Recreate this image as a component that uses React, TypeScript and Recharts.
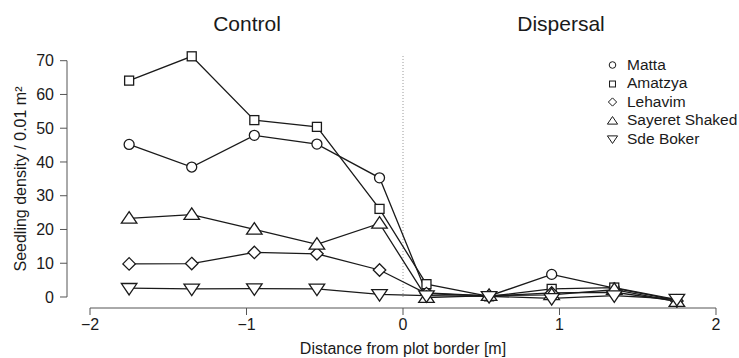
import { LineChart, Line, XAxis, YAxis, ReferenceLine } from "recharts";

const distances = [-1.75, -1.35, -0.95, -0.55, -0.15, 0.15, 0.55, 0.95, 1.35, 1.75];
const matta = [45.2, 38.5, 47.9, 45.3, 35.3, 1.2, 0.3, 6.7, 2.6, -1.0];
const amatzya = [64.1, 71.3, 52.4, 50.4, 26.1, 3.8, 0.2, 2.4, 2.8, -0.8];
const lehavim = [9.8, 9.9, 13.2, 12.8, 8.0, 1.0, 0.3, 1.2, 1.4, -1.2];
const sayeretShaked = [23.3, 24.4, 20.0, 15.6, 21.8, -0.2, 0.4, 0.6, 2.2, -1.4];
const sdeBoker = [2.6, 2.4, 2.5, 2.4, 0.8, 0.4, 0.2, -0.4, 0.4, -0.6];

const xTicks = [-2, -1, 0, 1, 2];
const yTicks = [0, 10, 20, 30, 40, 50, 60, 70];
const panelTitles = ["Control", "Dispersal"];

type Shape = "circle" | "square" | "diamond" | "up" | "down";

const series: { key: string; name: string; values: number[]; shape: Shape }[] = [
  { key: "matta", name: "Matta", values: matta, shape: "circle" },
  { key: "amatzya", name: "Amatzya", values: amatzya, shape: "square" },
  { key: "lehavim", name: "Lehavim", values: lehavim, shape: "diamond" },
  { key: "sayeret", name: "Sayeret Shaked", values: sayeretShaked, shape: "up" },
  { key: "sdeBoker", name: "Sde Boker", values: sdeBoker, shape: "down" },
];

const data = distances.map((x, i) => {
  const row: Record<string, number> = { x };
  series.forEach((s) => (row[s.key] = s.values[i]));
  return row;
});

const FONT = '"Liberation Sans", Arial, sans-serif';
const INK = "#1a1a1a";

function Marker({ cx, cy, shape, size = 5, sw = 1.3 }: { cx: number; cy: number; shape: Shape; size?: number; sw?: number }) {
  const p = { fill: "#fff", stroke: INK, strokeWidth: sw };
  if (shape === "circle") return <circle cx={cx} cy={cy} r={size} {...p} />;
  if (shape === "square") return <rect x={cx - size * 0.9} y={cy - size * 0.9} width={size * 1.8} height={size * 1.8} {...p} />;
  if (shape === "diamond") {
    const d = size * 1.25;
    return <polygon points={`${cx},${cy - d} ${cx + d},${cy} ${cx},${cy + d} ${cx - d},${cy}`} {...p} />;
  }
  const h = size * 1.35;
  if (shape === "up")
    return <polygon points={`${cx},${cy - h} ${cx + h * 1.15},${cy + h * 0.7} ${cx - h * 1.15},${cy + h * 0.7}`} {...p} />;
  return <polygon points={`${cx},${cy + h} ${cx + h * 1.15},${cy - h * 0.7} ${cx - h * 1.15},${cy - h * 0.7}`} {...p} />;
}

const fmt = (v: number) => (v < 0 ? `\u2212${-v}` : String(v));

export default function App() {
  return (
    <div style={{ position: "absolute", left: 0, top: 0, width: 739, height: 358, background: "#fff", fontFamily: FONT }}>
      <LineChart width={739} height={358} data={data} margin={{ top: 50, right: 0, bottom: 0, left: 0 }}>
        <XAxis
          dataKey="x"
          type="number"
          domain={[-2.147, 2.147]}
          ticks={xTicks}
          tickFormatter={fmt}
          axisLine={false}
          tickLine={{ stroke: "#555" }}
          tickSize={7}
          tickMargin={4}
          tick={{ fill: INK, fontSize: 16, fontFamily: FONT }}
          height={50}
          allowDataOverflow
          label={{ value: "Distance from plot border [m]", position: "insideBottom", offset: 4, fill: INK, fontSize: 16, fontFamily: FONT }}
        />
        <YAxis
          type="number"
          domain={[-3.26, 73.17]}
          ticks={yTicks}
          axisLine={false}
          tickLine={{ stroke: "#555" }}
          tickSize={7}
          tickMargin={6}
          tick={{ fill: INK, fontSize: 16, fontFamily: FONT }}
          width={67}
          allowDataOverflow
          label={{
            value: "Seedling density / 0.01 m\u00b2",
            angle: -90,
            position: "insideLeft",
            offset: 20,
            style: { textAnchor: "middle" },
            fill: INK,
            fontSize: 16,
            fontFamily: FONT,
          }}
        />
        <ReferenceLine segment={[{ x: -2.147, y: 0 }, { x: -2.147, y: 70 }]} stroke="#555" ifOverflow="visible" />
        <ReferenceLine segment={[{ x: -2, y: -3.26 }, { x: 2, y: -3.26 }]} stroke="#555" ifOverflow="visible" />
        <ReferenceLine segment={[{ x: 0, y: 0 }, { x: 0, y: 72 }]} stroke="#999" strokeDasharray="1 2" ifOverflow="visible" />
        {series.map((s) => (
          <Line
            key={s.key}
            dataKey={s.key}
            name={s.name}
            stroke={INK}
            strokeWidth={1.3}
            isAnimationActive={false}
            dot={(props: any) => <Marker key={`${s.key}-${props.index}`} cx={props.cx} cy={props.cy} shape={s.shape} />}
            activeDot={false}
          />
        ))}
      </LineChart>
      {panelTitles.map((t, i) => (
        <div
          key={t}
          style={{
            position: "absolute",
            top: 12,
            left: (i === 0 ? 247 : 561) - 80,
            width: 160,
            textAlign: "center",
            fontSize: 21,
            lineHeight: "24px",
            color: INK,
          }}
        >
          {t}
        </div>
      ))}
      <div style={{ position: "absolute", left: 605, top: 55.7, color: INK, fontSize: 15.5, lineHeight: "18.6px" }}>
        {series.map((s) => (
          <div key={s.key} style={{ display: "flex", alignItems: "center", height: 18.6 }}>
            <svg width={16} height={18} style={{ marginRight: 6 }}>
              <Marker cx={7.5} cy={9} shape={s.shape} size={3.3} sw={1} />
            </svg>
            <span>{s.name}</span>
          </div>
        ))}
      </div>
    </div>
  );
}
